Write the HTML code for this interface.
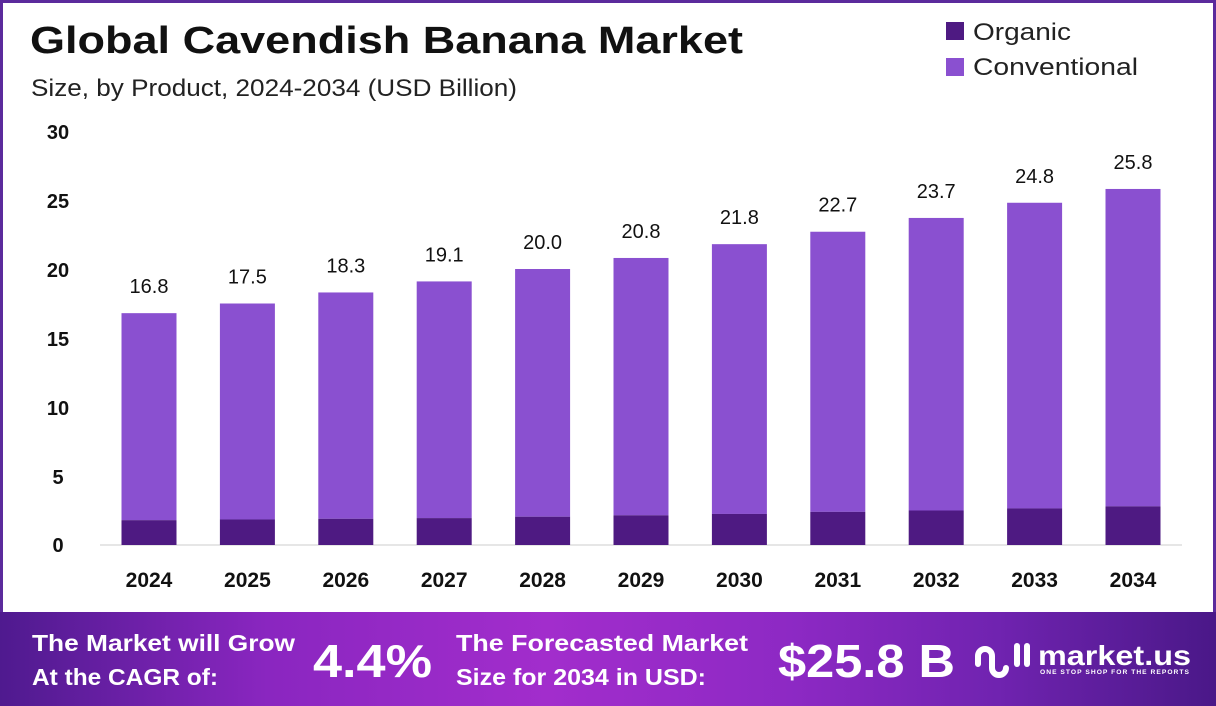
<!DOCTYPE html>
<html><head><meta charset="utf-8"><style>
html,body{margin:0;padding:0;}
body{width:1216px;height:706px;position:relative;overflow:hidden;background:#fff;font-family:"Liberation Sans",sans-serif;}
.frame{position:absolute;left:0;top:0;width:1210px;height:610px;border:3px solid #5b2a9c;border-bottom:none;}
.footer{position:absolute;left:0;top:612px;width:1216px;height:94px;background:linear-gradient(90deg,#4f1a8f 0%,#8a26c0 22%,#a22dcc 45%,#8d29c4 65%,#7023b0 82%,#4a1888 100%);}
svg{position:absolute;left:0;top:0;}
</style></head><body>
<div class="frame"></div>
<div class="footer"></div>
<svg width="1216" height="706" xmlns="http://www.w3.org/2000/svg" font-family="Liberation Sans, sans-serif">
<text x="30" y="53" font-size="38" font-weight="bold" fill="#111" textLength="713" lengthAdjust="spacingAndGlyphs">Global Cavendish Banana Market</text>
<text x="31" y="96" font-size="24" fill="#222" textLength="486" lengthAdjust="spacingAndGlyphs">Size, by Product, 2024-2034 (USD Billion)</text>
<rect x="946" y="22" width="18" height="18" fill="#4e1a82"/>
<text x="973" y="40" font-size="24" fill="#222" textLength="98" lengthAdjust="spacingAndGlyphs">Organic</text>
<rect x="946" y="58" width="18" height="18" fill="#8a50d0"/>
<text x="973" y="75" font-size="24" fill="#222" textLength="165" lengthAdjust="spacingAndGlyphs">Conventional</text>
<g font-size="20" font-weight="bold" fill="#111" text-anchor="middle">
<text x="58" y="139">30</text><text x="58" y="208">25</text><text x="58" y="277">20</text>
<text x="58" y="346">15</text><text x="58" y="415">10</text><text x="58" y="484">5</text><text x="58" y="552">0</text>
</g>
<line x1="100" y1="545" x2="1182" y2="545" stroke="#ddd" stroke-width="1.5"/>
<g id="bars"></g>
<g font-size="20" fill="#111" text-anchor="middle" id="vals"></g>
<g font-size="21" font-weight="bold" fill="#111" text-anchor="middle" id="yrs"></g>
<g fill="#fff" font-weight="bold">
<text x="32" y="651" font-size="23" textLength="263" lengthAdjust="spacingAndGlyphs">The Market will Grow</text>
<text x="32" y="685" font-size="23" textLength="186" lengthAdjust="spacingAndGlyphs">At the CAGR of:</text>
<text x="313" y="677" font-size="46" textLength="119" lengthAdjust="spacingAndGlyphs">4.4%</text>
<text x="456" y="651" font-size="23" textLength="292" lengthAdjust="spacingAndGlyphs">The Forecasted Market</text>
<text x="456" y="685" font-size="23" textLength="250" lengthAdjust="spacingAndGlyphs">Size for 2034 in USD:</text>
<text x="778" y="677" font-size="46" textLength="177" lengthAdjust="spacingAndGlyphs">$25.8 B</text>
<text x="1038" y="665" font-size="28" textLength="153" lengthAdjust="spacingAndGlyphs">market.us</text>
<text x="1040" y="674" font-size="6.5" letter-spacing="1" textLength="150" lengthAdjust="spacingAndGlyphs">ONE STOP SHOP FOR THE REPORTS</text>
</g>
<g fill="none" stroke="#fff" stroke-width="6" stroke-linecap="round">
<path d="M978 664 v-8 a7 7 0 0 1 14 0 v12 a7 7 0 0 0 14 0"/>
<line x1="1017" y1="646" x2="1017" y2="664"/>
<line x1="1027" y1="646" x2="1027" y2="664"/>
</g>
<script>
var tot=[16.8,17.5,18.3,19.1,20.0,20.8,21.8,22.7,23.7,24.8,25.8];
var org=[1.8,1.85,1.9,1.95,2.05,2.15,2.25,2.4,2.5,2.65,2.8];
var b0=545,k=13.8,ns="http://www.w3.org/2000/svg";
var bars=document.getElementById("bars"),vals=document.getElementById("vals"),yrs=document.getElementById("yrs");
function mk(tag,at,p,txt){var e=document.createElementNS(ns,tag);for(var a in at)e.setAttribute(a,at[a]);if(txt)e.textContent=txt;p.appendChild(e);}
for(var i=0;i<11;i++){var cx=149+i*98.4,w=55;
var ht=tot[i]*k,ho=org[i]*k;
mk("rect",{x:cx-w/2,y:b0-ht,width:w,height:ht-ho,fill:"#8a50d0"},bars);
mk("rect",{x:cx-w/2,y:b0-ho,width:w,height:ho,fill:"#4e1a82"},bars);
mk("text",{x:cx,y:b0-ht-20},vals,tot[i].toFixed(1));
mk("text",{x:cx,y:587},yrs,String(2024+i));}
</script>
</svg>
</body></html>
